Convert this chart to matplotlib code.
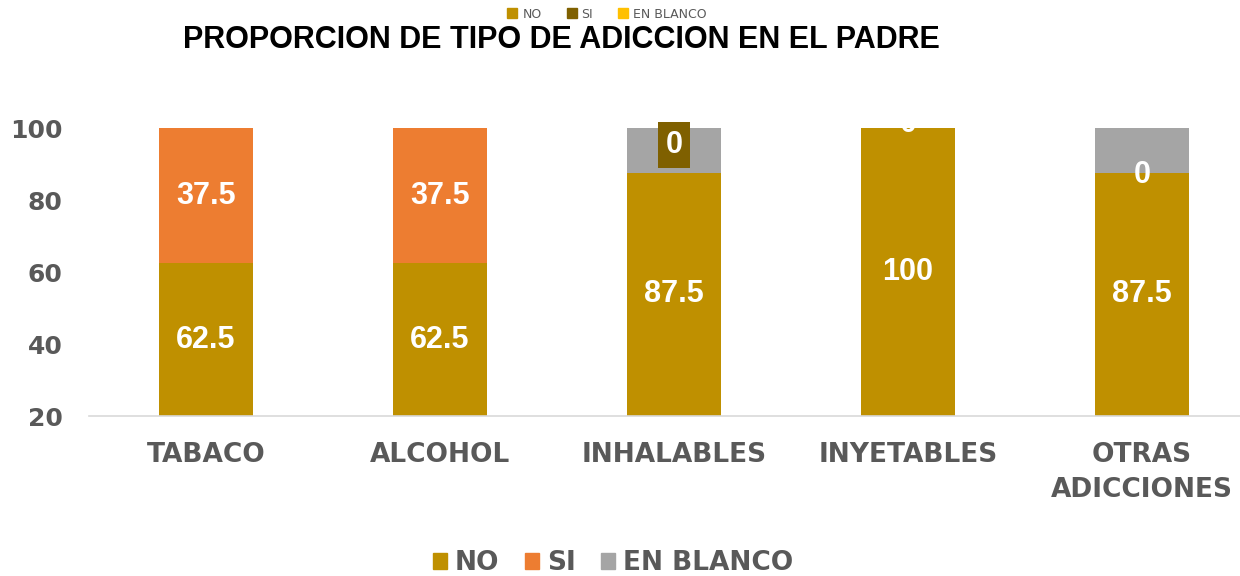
import matplotlib
matplotlib.use("Agg")
import matplotlib.pyplot as plt
from matplotlib.patches import Patch

categories = ["TABACO", "ALCOHOL", "INHALABLES", "INYETABLES", "OTRAS\nADICCIONES"]
no_vals = [62.5, 62.5, 87.5, 100, 87.5]
si_vals = [37.5, 37.5, 0, 0, 0]
blanco_vals = [0, 0, 12.5, 0, 12.5]
yticks = [20, 40, 60, 80, 100]

C_NO = "#BF9000"
C_SI = "#ED7D31"
C_BL = "#A5A5A5"
GRAY = "#595959"

plt.rcParams['font.family'] = ['Liberation Sans', 'DejaVu Sans']
WIDE = ['DejaVu Sans']

fig = plt.figure(figsize=(12.4, 5.76), dpi=100)
ax = fig.add_axes([89/1240, 1 - 416/576, 1170/1240, (416-128)/576])

x = list(range(len(categories)))
w = 0.4
ax.bar(x, no_vals, w, color=C_NO, label="NO")
ax.bar(x, si_vals, w, bottom=no_vals, color=C_SI, label="SI")
bott2 = [a + b for a, b in zip(no_vals, si_vals)]
ax.bar(x, blanco_vals, w, bottom=bott2, color=C_BL, label="EN BLANCO")

ax.set_ylim(20, 100)
ax.set_xlim(-0.5, len(categories) - 0.5)
ax.set_yticks(yticks)
ax.set_xticks(x)
ax.set_xticklabels(categories, fontsize=19, fontweight='bold', color=GRAY,
                   linespacing=1.45, family=WIDE)
ax.set_yticklabels([str(v) for v in yticks], fontsize=18, fontweight='bold',
                   color=GRAY, family=WIDE)
ax.tick_params(axis='both', length=0)
ax.tick_params(axis='x', pad=19)
ax.tick_params(axis='y', pad=19)
for s in ['top', 'right', 'left']:
    ax.spines[s].set_visible(False)
ax.spines['bottom'].set_color('#D9D9D9')
ax.spines['bottom'].set_linewidth(1.2)

def fmt(v):
    return f"{v:g}"

lab_kw = dict(ha='center', va='center', color='white', fontsize=22, fontweight='bold')
for i in x:
    n, s, b = no_vals[i], si_vals[i], blanco_vals[i]
    if n > 0:
        ax.text(i, (20 + n) / 2, fmt(n), **lab_kw)
    if s > 0:
        ax.text(i, n + s / 2, fmt(s), **lab_kw)

# zero labels
ax.text(2, 95.3, "0", bbox=dict(boxstyle='square,pad=0.25', fc="#7F6000", ec='none'), **lab_kw)
ax.text(3, 101.0, "0", clip_on=False, **lab_kw)
ax.text(4, 87.0, "0", **lab_kw)

fig.text(183/1240, 1 - 40/576, "PROPORCION DE TIPO DE ADICCION EN EL PADRE",
         ha='left', va='center', fontsize=22, fontweight='bold', color='black')

# small top legend
top_handles = [Patch(color=C_NO, label="NO"), Patch(color="#7F6000", label="SI"),
               Patch(color="#FFC000", label="EN BLANCO")]
tl = fig.legend(handles=top_handles, loc='center', bbox_to_anchor=(607/1240, 1 - 14/576),
                ncol=3, frameon=False, labelcolor=GRAY, handlelength=0.8,
                handleheight=0.8, columnspacing=2.0, handletextpad=0.4,
                prop={'family': WIDE, 'size': 9})

handles = [Patch(color=C_NO, label="NO"), Patch(color=C_SI, label="SI"),
           Patch(color=C_BL, label="EN BLANCO")]
leg = fig.legend(handles=handles, loc='center', bbox_to_anchor=(613/1240, 1 - 563/576),
                 ncol=3, frameon=False, handlelength=0.55, handleheight=0.55,
                 columnspacing=0.95, handletextpad=0.3,
                 prop={'family': WIDE, 'size': 19, 'weight': 'bold'})
for t in leg.get_texts():
    t.set_color(GRAY)

fig.savefig("out.png", dpi=100)
